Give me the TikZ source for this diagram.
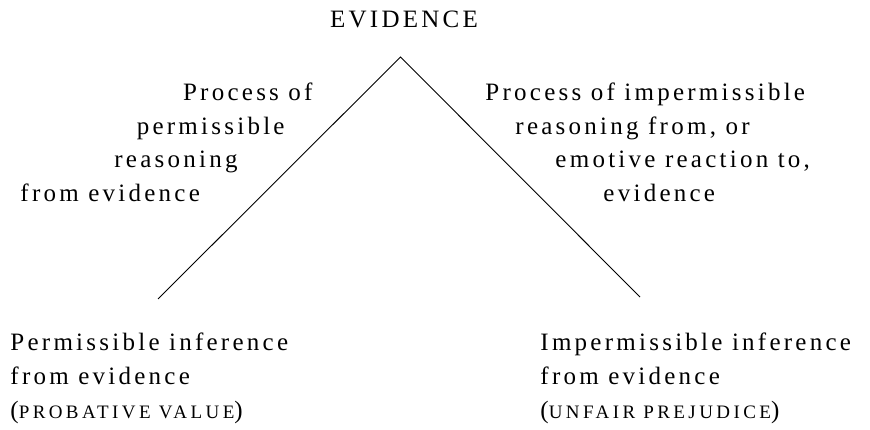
\documentclass[tikz,border=0pt]{standalone}
\usepackage{fontspec}
\usepackage{tikz}
\usetikzlibrary{positioning}

\newfontfamily\labelfont{Liberation Serif}[LetterSpace=13]
\newfontfamily\capsfont{Liberation Serif}[LetterSpace=18]
\newcommand{\scaps}[1]{{\capsfont\fontsize{19}{34}\selectfont #1}}

\begin{document}
\begin{tikzpicture}[x=1pt, y=1pt, line width=0.9pt]
  \tikzstyle{every node}=[inner sep=0pt, font=\labelfont\fontsize{25}{34}\selectfont]
  \tikzstyle{lline}=[anchor=base east]
  \tikzstyle{rline}=[anchor=base west]
  \useasboundingbox (0,0) rectangle (870,429);

  \coordinate (apex) at (400.5,372);
  \coordinate (lend) at (158,130);
  \coordinate (rend) at (640,132);
  \draw (lend) -- (apex) -- (rend);

  \node[anchor=base] (evid) at (404,401) {EVIDENCE};

  % left side: permissible reasoning
  \node[lline] (lp1) at (313,328) {Process of};
  \node[lline] (lp2) at (285,294) {permissible};
  \node[lline] (lp3) at (238,261) {reasoning};
  \node[rline] (lp4) at (20,227) {from evidence};

  % right side: impermissible reasoning
  \node[rline] (rp1) at (485,328) {Process of impermissible};
  \node[rline] (rp2) at (515,294) {reasoning from, or};
  \node[rline] (rp3) at (555,261) {emotive reaction to,};
  \node[rline] (rp4) at (603,227) {evidence};

  % outcomes
  \node[rline] (li1) at (10,79) {Permissible inference};
  \node[rline] (li2) at (10,45) {from evidence};
  \node[rline] (li3) at (10,11) {(\scaps{PROBATIVE VALUE})};

  \node[rline] (ri1) at (540,79) {Impermissible inference};
  \node[rline] (ri2) at (540,45) {from evidence};
  \node[rline] (ri3) at (540,11) {(\scaps{UNFAIR PREJUDICE})};
\end{tikzpicture}
\end{document}
